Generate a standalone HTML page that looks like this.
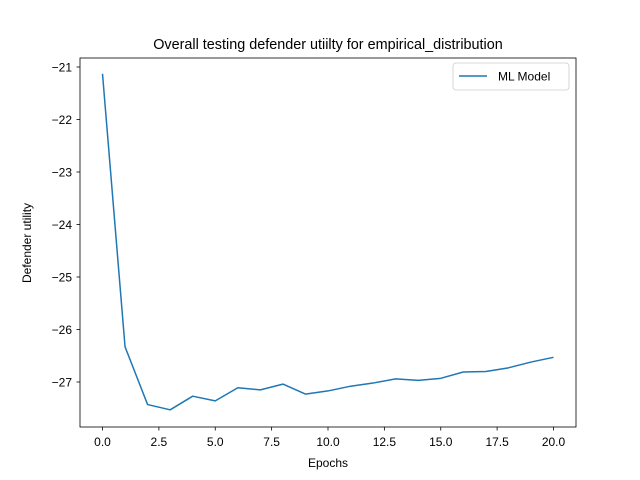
<!DOCTYPE html>
<html><head><meta charset="utf-8"><style>
body{margin:0;background:#fff;}
svg{display:block;font-family:"Liberation Sans","DejaVu Sans",sans-serif;}
</style></head><body>
<svg id="chart" width="640" height="480" xmlns="http://www.w3.org/2000/svg">
<rect width="640" height="480" fill="#fff"/>
<text x="328" y="49" text-anchor="middle" font-size="14.4">Overall testing defender utiilty for empirical_distribution</text>
<g id="plot"></g>
<rect x="80" y="58" width="496" height="369" fill="none" stroke="#000" stroke-width="0.8"/>
<text x="328" y="467" text-anchor="middle" font-size="12">Epochs</text>
<text transform="translate(31,243) rotate(-90)" text-anchor="middle" font-size="12">Defender utility</text>
<g>
<rect x="453" y="63" width="116" height="27" rx="3" fill="#fff" stroke="#ccc" stroke-width="0.8"/>
<line x1="459" y1="76" x2="487" y2="76" stroke="#1f77b4" stroke-width="1.5"/>
<text x="498" y="80.5" font-size="12">ML Model</text>
</g>
</svg>
<script>
const epochs=[0,1,2,3,4,5,6,7,8,9,10,11,12,13,14,15,16,17,18,19,20];
const utility=[-21.13,-26.33,-27.43,-27.53,-27.27,-27.36,-27.11,-27.15,-27.04,-27.23,-27.17,-27.08,-27.02,-26.94,-26.97,-26.93,-26.81,-26.80,-26.73,-26.62,-26.53];
const xTicks=[0,2.5,5,7.5,10,12.5,15,17.5,20];
const xTickLabels=["0.0","2.5","5.0","7.5","10.0","12.5","15.0","17.5","20.0"];
const yTicks=[-21,-22,-23,-24,-25,-26,-27];
const yTickLabels=["−21","−22","−23","−24","−25","−26","−27"];
const NS="http://www.w3.org/2000/svg";
const sx=v=>102.5+(v-0)*(553.5-102.5)/20;
const sy=v=>67+(-21-v)*52.5;
const g=document.getElementById('plot');
function mk(t,a){const e=document.createElementNS(NS,t);for(const k in a)e.setAttribute(k,a[k]);g.appendChild(e);return e;}
xTicks.forEach((t,i)=>{
 const l=mk('line',{x1:sx(t),x2:sx(t),y1:427,y2:430.5,stroke:'#000','stroke-width':0.8});
 
 
 const tx=mk('text',{x:sx(t),y:446,'text-anchor':'middle','font-size':12});
 tx.textContent=xTickLabels[i];
 
 
});
yTicks.forEach((t,i)=>{
 const l=mk('line',{x1:76.5,x2:80,y1:sy(t),y2:sy(t),stroke:'#000','stroke-width':0.8});
 
 
 const tx=mk('text',{x:72,y:sy(t)+4.5,'text-anchor':'end','font-size':12});
 tx.textContent=yTickLabels[i];
 
 
});
const pts=epochs.map((e,i)=>sx(e)+','+sy(utility[i])).join(' ');
const pl=mk('polyline',{points:pts,fill:'none',stroke:'#1f77b4','stroke-width':1.5,'stroke-linejoin':'round'});


</script>
</body></html>
